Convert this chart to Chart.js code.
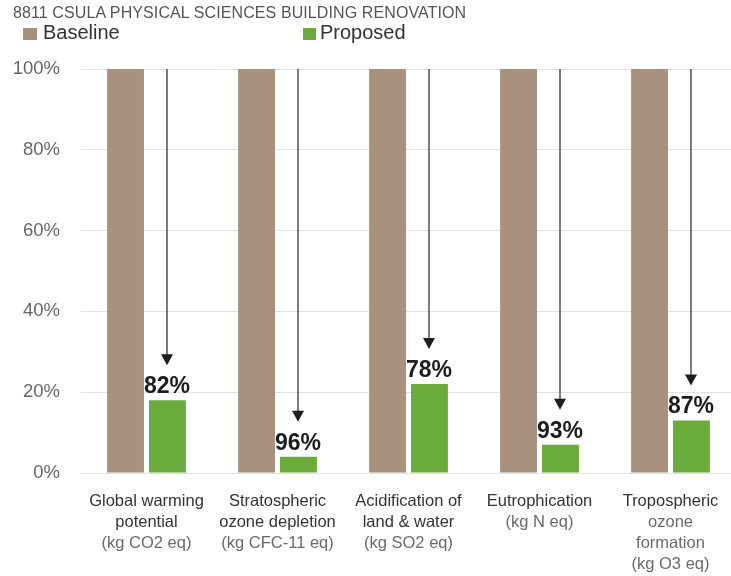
<!DOCTYPE html>
<html lang="en">
<head>
    <meta charset="UTF-8">
    <title>8811 CSULA Physical Sciences Building Renovation</title>
    <script src="https://cdn.jsdelivr.net/npm/chart.js"></script>
    <style>
        body {
            margin: 0;
            background: #fff;
            overflow: hidden;
            font-family: 'Liberation Sans', Arial, sans-serif;
        }
        .wrap { position: relative; width: 731px; height: 576px; }
        #chart { position: absolute; left: 0; top: 0; }
        .title {
            position: absolute; left: 13px; top: 5px;
            font-size: 16px; line-height: 1; color: #555;
            white-space: nowrap; letter-spacing: 0.1px;
        }
        .key { position: absolute; top: 22px; font-size: 20px; line-height: 1; color: #333; }
        .swatch { position: absolute; top: 28px; width: 14px; height: 12px; }
    </style>
</head>
<body>
<div class="wrap">
    <canvas id="chart" width="736" height="576"></canvas>
    <div class="title">8811 CSULA PHYSICAL SCIENCES BUILDING RENOVATION</div>
    <!-- Legend -->
    <div class="swatch" style="left:23px; background:#a8927d"></div>
    <div class="key" style="left:43px">Baseline</div>
    <div class="swatch" style="left:303px; width:13px; background:#6bab3c"></div>
    <div class="key" style="left:320px">Proposed</div>
</div>
<script>
    // impact categories: first lines are the name, the rest are drawn lighter
    const nameLines = [
        ['Global warming', 'potential'],
        ['Stratospheric', 'ozone depletion'],
        ['Acidification of', 'land & water'],
        ['Eutrophication'],
        ['Tropospheric']
    ];
    const subLines = [
        ['(kg CO2 eq)'],
        ['(kg CFC-11 eq)'],
        ['(kg SO2 eq)'],
        ['(kg N eq)'],
        ['ozone', 'formation', '(kg O3 eq)']
    ];
    const baseline = [100, 100, 100, 100, 100];
    const reduction = [82, 96, 78, 93, 87];
    const proposed = reduction.map(r => 100 - r);
    const yTicks = [0, 20, 40, 60, 80, 100];

    const baseColor = '#a8927d';
    const propColor = '#6bab3c';

    // arrows from the baseline top down to each reduction label, plus category labels
    const annotate = {
        id: 'annotate',
        afterDatasetsDraw(chart) {
            const ctx = chart.ctx;
            const top = chart.scales.y.getPixelForValue(100);
            const meta = chart.getDatasetMeta(1);
            ctx.save();
            meta.data.forEach((bar, i) => {
                const x = Math.round(bar.x);
                const labelBase = bar.y - 7;
                const tip = bar.y - 35;

                ctx.strokeStyle = '#444';
                ctx.lineWidth = 1.4;
                ctx.beginPath();
                ctx.moveTo(x, top);
                ctx.lineTo(x, tip - 8);
                ctx.stroke();

                ctx.fillStyle = '#1e1e1e';
                ctx.beginPath();
                ctx.moveTo(x - 6, tip - 11);
                ctx.lineTo(x + 6, tip - 11);
                ctx.lineTo(x, tip);
                ctx.closePath();
                ctx.fill();

                ctx.font = 'bold 23px "Liberation Sans", Arial, sans-serif';
                ctx.textAlign = 'center';
                ctx.textBaseline = 'alphabetic';
                ctx.fillStyle = '#1c1c1c';
                ctx.fillText(reduction[i] + '%', x, labelBase);
            });

            // category labels under the axis
            const xs = chart.scales.x;
            const y0 = chart.chartArea.bottom + 28;
            ctx.font = '16.5px "Liberation Sans", Arial, sans-serif';
            ctx.textAlign = 'center';
            ctx.textBaseline = 'middle';
            nameLines.forEach((lines, i) => {
                const cx = xs.getPixelForValue(i);
                let row = 0;
                ctx.fillStyle = '#333';
                lines.forEach(t => ctx.fillText(t, cx, y0 + 21 * row++));
                ctx.fillStyle = '#6a6a6a';
                subLines[i].forEach(t => ctx.fillText(t, cx, y0 + 21 * row++));
            });
            ctx.restore();
        }
    };

    new Chart(document.getElementById('chart').getContext('2d'), {
        type: 'bar',
        data: {
            labels: nameLines.map(l => l.join(' ')),
            datasets: [{
                label: 'Baseline',
                data: baseline,
                backgroundColor: baseColor,
                categoryPercentage: 0.64,
                barPercentage: 0.88
            }, {
                label: 'Proposed',
                data: proposed,
                backgroundColor: propColor,
                categoryPercentage: 0.64,
                barPercentage: 0.88
            }]
        },
        options: {
            responsive: false,
            animation: false,
            events: [],
            layout: { padding: { top: 69, bottom: 103, left: 0, right: 0 } },
            plugins: {
                legend: { display: false },
                tooltip: { enabled: false }
            },
            scales: {
                x: {
                    grid: { display: false },
                    border: { display: false },
                    ticks: { display: false },
                    afterFit: s => { s.height = 0; }
                },
                y: {
                    min: 0,
                    max: 100,
                    afterBuildTicks: s => { s.ticks = yTicks.map(v => ({ value: v })); },
                    afterFit: s => { s.width = 81; },
                    grid: { color: '#e2e2e2', lineWidth: 1, drawTicks: false },
                    border: { display: false },
                    ticks: {
                        padding: 21,
                        color: '#666',
                        font: { family: '"Liberation Sans", Arial, sans-serif', size: 18.5 },
                        callback: v => v + '%'
                    }
                }
            }
        },
        plugins: [annotate]
    });
</script>
</body>
</html>
